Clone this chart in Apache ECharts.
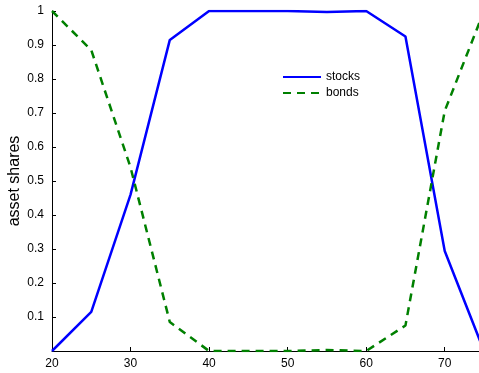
<!DOCTYPE html>
<html><head><meta charset="utf-8">
<script src="https://cdn.jsdelivr.net/npm/echarts@6/dist/echarts.min.js"></script>
<style>html,body{margin:0;padding:0;background:#fff}#c{width:479px;height:373px}</style>
</head><body><div id="c"></div>
<script>
const ages = [20,25,30,35,40,45,50,55,60,65,70,75];
const stocks = [0,0.115,0.46,0.915,1,1,1,0.997,1,0.925,0.294,0];
const bonds = [1,0.885,0.54,0.085,0,0,0,0.003,0,0.075,0.706,1];
const yLabel = 'asset shares';
const font = '"Liberation Sans", Arial, sans-serif';
const chart = echarts.init(document.getElementById('c'));
chart.setOption({
  animation:false,
  grid:{left:52,right:-5,top:11,bottom:22,containLabel:false,outerBoundsMode:'none'},
  legend:{orient:'vertical',left:277,top:66,itemWidth:38,itemHeight:10,itemGap:4,
    itemStyle:{opacity:0},
    textStyle:{fontFamily:font,fontSize:12,color:'#000'},data:['stocks','bonds']},
  xAxis:{type:'value',min:20,max:75,interval:10,
    axisLine:{lineStyle:{color:'#000',width:1}},
    axisTick:{inside:true,length:4,lineStyle:{color:'#000'}},
    axisLabel:{fontFamily:font,fontSize:12,color:'#000',margin:7,
      formatter:v=>v>=75?'':v},
    splitLine:{show:false}},
  yAxis:{type:'value',min:0,max:1,interval:0.1,name:yLabel,nameLocation:'middle',nameGap:29,
    nameMoveOverlap:false,
    nameTextStyle:{fontFamily:font,fontSize:16,color:'#000'},
    axisLine:{show:true,lineStyle:{color:'#000',width:1}},
    axisTick:{show:true,inside:true,length:4,lineStyle:{color:'#000'}},
    axisLabel:{fontFamily:font,fontSize:12,color:'#000',margin:8,
      formatter:v=>v===0?'':(Math.round(v*10)/10).toString()},
    splitLine:{show:false}},
  series:[
    {name:'stocks',type:'line',data:ages.map((a,i)=>[a,stocks[i]]),symbol:'none',
      lineStyle:{color:'#0000ff',width:2.5},itemStyle:{color:'#0000ff'}},
    {name:'bonds',type:'line',data:ages.map((a,i)=>[a,bonds[i]]),symbol:'none',
      lineStyle:{color:'#008000',width:2.5,type:[8,6]},itemStyle:{color:'#008000'}}
  ]
});
</script></body></html>
